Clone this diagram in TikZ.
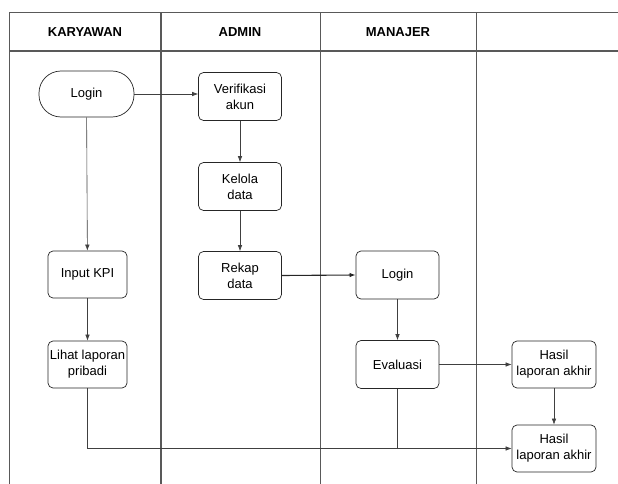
\documentclass[tikz,border=0pt]{standalone}
\usepackage{fontspec}
\setmainfont{Liberation Sans}
\usetikzlibrary{arrows.meta}
\tikzset{
	lane/.style={draw=black!65, line width=0.8pt},
	judul/.style={font=\bfseries\fontsize{13}{15}\selectfont},
	proses/.style={draw=black!85, line width=0.7pt, rounded corners=5pt, align=center,
		minimum width=83pt, minimum height=48pt, inner sep=1pt,
		font=\fontsize{13}{16}\selectfont},
	mulai/.style={proses, rounded corners=22pt, minimum width=95pt, minimum height=46pt},
	alur/.style={draw=black!75, line width=0.6pt, -{Latex[length=6pt,width=4.5pt]}},
	garis/.style={draw=black!75, line width=0.6pt}
}
\begin{document}
\begin{tikzpicture}[x=1pt, y=-1pt]
		\useasboundingbox (0,0) rectangle (618,484);
		% swimlane
		\draw [lane] (9,12.5) -- (618,12.5);
		\draw [lane, line width=1.1pt] (9,51) -- (618,51);
		\foreach \x in {9,161,320,476}{%
			\draw [lane] (\x,12.5) -- (\x,484);
			}
		\draw [lane, line width=1.2pt] (161,12.5) -- (161,484);
		\node [judul] (hkaryawan) at (85,32)  {KARYAWAN};
		\node [judul] (hadmin)    at (240,32) {ADMIN};
		\node [judul] (hmanajer)  at (398,32) {MANAJER};
		% karyawan
		\node [mulai]  (login1) at (86.5,94)  {Login};
		\node [proses, minimum width=79pt, minimum height=47pt] (input) at (87.5,274.5) {Input KPI};
		\node [proses, minimum width=79pt, minimum height=47pt] (lihat) at (87.5,364.5) {Lihat laporan\\pribadi};
		% admin
		\node [proses] (verifikasi) at (240,96.5)  {Verifikasi\\akun};
		\node [proses] (kelola)     at (240,186.5) {Kelola\\data};
		\node [proses] (rekap)      at (240,275.5) {Rekap\\data};
		% manajer
		\node [proses] (login2)   at (397.5,275)   {Login};
		\node [proses] (evaluasi) at (397.5,364.5) {Evaluasi};
		% hasil
		\node [proses, minimum width=84pt, minimum height=47pt] (hasil1) at (554,364.5) {Hasil\\laporan akhir};
		\node [proses, minimum width=84pt, minimum height=47pt] (hasil2) at (554,448.5) {Hasil\\laporan akhir};
		% alur
		\draw [alur] (login1.east) -- (login1.east -| verifikasi.west);
		\draw [alur] (login1) -- (input);
		\draw [alur] (input) -- (lihat);
		\draw [alur] (verifikasi) -- (kelola);
		\draw [alur] (kelola) -- (rekap);
		\draw [alur, line width=1.1pt, draw=black!85] (rekap.east) -- (login2.west);
		\draw [alur] (login2) -- (evaluasi);
		\draw [alur] (evaluasi) -- (hasil1);
		\draw [alur] (hasil1) -- (hasil2);
		\draw [alur] (lihat.south) |- (hasil2.west);
		\draw [garis] (evaluasi.south) -- (evaluasi.south |- hasil2.west);
	\end{tikzpicture}
\end{document}
